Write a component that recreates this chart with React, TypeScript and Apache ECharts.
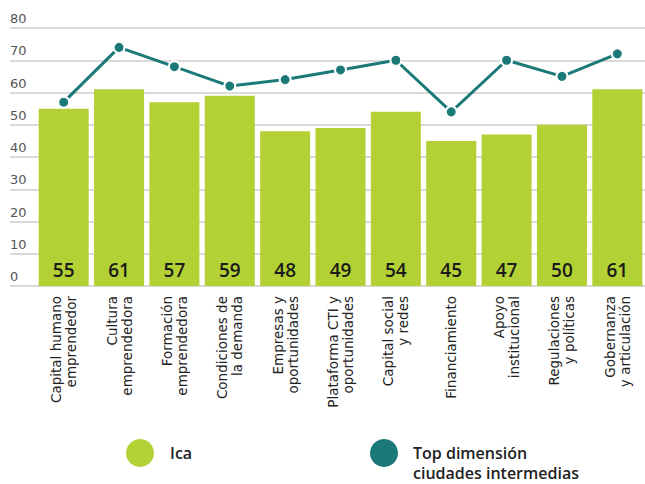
import React, { useEffect, useRef } from "react";
import * as echarts from "echarts";

const categories = [
  "Capital humano\nemprendedor",
  "Cultura\nemprendedora",
  "Formación\nemprendedora",
  "Condiciones de\nla demanda",
  "Empresas y\noportunidades",
  "Plataforma CTI y\noportunidades",
  "Capital social\ny redes",
  "Financiamiento",
  "Apoyo\ninstitucional",
  "Regulaciones\ny políticas",
  "Gobernanza\ny articulación",
];
const icaValues = [55, 61, 57, 59, 48, 49, 54, 45, 47, 50, 61];
const topValues = [57, 74, 68, 62, 64, 67, 70, 54, 70, 65, 72];
const seriesNames = ["Ica", "Top dimensión", "ciudades intermedias"];
const yMin = 0;
const yMax = 80;
const yInterval = 10;

const GREEN = "#b3d135";
const TEAL = "#1b7a78";
const FONT = "DejaVu Sans";
const FONT2 = "Open Sans";

export default function App() {
  const ref = useRef<HTMLDivElement>(null);
  useEffect(() => {
    if (!ref.current) return;
    const chart = echarts.init(ref.current, undefined, { renderer: "svg" });
    chart.setOption({
      animation: false,
      backgroundColor: "#ffffff",
      textStyle: { fontFamily: FONT },
      grid: [
        { left: 36, top: 28, width: 614, bottom: 198, containLabel: false },
        { left: 10, top: 28, right: 0, bottom: 198, containLabel: false },
      ],
      xAxis: [
        {
          type: "category",
          gridIndex: 0,
          data: categories,
          axisLine: { show: false },
          axisTick: { show: false },
          axisLabel: {
            interval: 0,
            rotate: 90,
            margin: 10,
            fontSize: 13.5,
            lineHeight: 15,
            color: "#222222",
            fontFamily: FONT,
          },
        },
        {
          type: "value",
          gridIndex: 1,
          min: 0,
          max: 1,
          show: false,
        },
      ],
      yAxis: [
        {
          type: "value",
          gridIndex: 0,
          min: yMin,
          max: yMax,
          interval: yInterval,
          show: false,
          splitLine: { show: false },
        },
        {
          type: "value",
          gridIndex: 1,
          min: yMin,
          max: yMax,
          interval: yInterval,
          axisLine: { show: false },
          axisTick: { show: false },
          splitLine: { show: true, lineStyle: { color: "#d9d9d9", width: 2 } },
          axisLabel: {
            inside: true,
            margin: 0,
            align: "left",
            verticalAlign: "bottom",
            padding: [0, 0, 3, 0],
            fontSize: 13,
            color: "#555555",
            fontFamily: FONT,
          },
          z: 0,
        },
      ],
      series: [
        {
          name: seriesNames[0],
          type: "bar",
          xAxisIndex: 0,
          yAxisIndex: 0,
          data: icaValues,
          barWidth: 50,
          itemStyle: { color: GREEN },
          label: {
            show: true,
            position: "insideBottom",
            distance: 7,
            fontSize: 19,
            fontWeight: 600,
            color: "#1a1a1a",
            fontFamily: FONT2,
          },
          z: 2,
        },
        {
          name: seriesNames[1] + " " + seriesNames[2],
          type: "line",
          xAxisIndex: 0,
          yAxisIndex: 0,
          data: topValues,
          symbol: "circle",
          symbolSize: 11,
          lineStyle: { color: TEAL, width: 3 },
          itemStyle: { color: TEAL, borderColor: "#ffffff", borderWidth: 2 },
          z: 3,
        },
      ],
      graphic: [
        { type: "circle", shape: { cx: 140, cy: 453, r: 14 }, style: { fill: GREEN } },
        {
          type: "text",
          x: 170,
          y: 453,
          style: {
            text: seriesNames[0],
            fontSize: 16,
            fontWeight: 600,
            fill: "#222222",
            fontFamily: FONT2,
            verticalAlign: "middle",
          },
        },
        { type: "circle", shape: { cx: 384, cy: 453, r: 14 }, style: { fill: TEAL } },
        {
          type: "text",
          x: 413,
          y: 453,
          style: {
            text: seriesNames[1],
            fontSize: 16,
            fontWeight: 600,
            fill: "#222222",
            fontFamily: FONT2,
            verticalAlign: "middle",
          },
        },
        {
          type: "text",
          x: 413,
          y: 473,
          style: {
            text: seriesNames[2],
            fontSize: 16,
            fontWeight: 600,
            fill: "#222222",
            fontFamily: FONT2,
            verticalAlign: "middle",
          },
        },
      ],
    });
    return () => chart.dispose();
  }, []);
  return (
    <div
      ref={ref}
      style={{ position: "fixed", left: 0, top: 0, width: 645, height: 484 }}
    />
  );
}
